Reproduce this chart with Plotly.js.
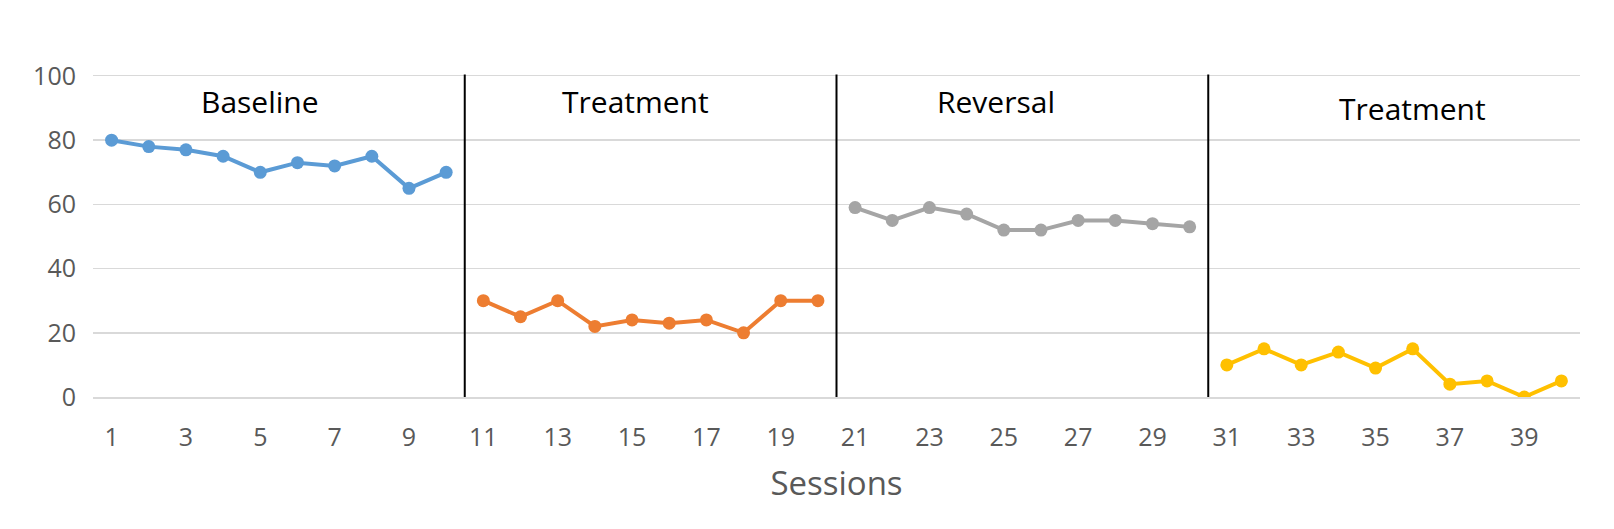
<!DOCTYPE html>
<html>
<head>
<meta charset="utf-8">
<script src="https://cdn.plot.ly/plotly-3.0.1.min.js"></script>
<style>
  html, body { margin: 0; padding: 0; background: #fff; }
  #chart { width: 1614px; height: 529px; }
</style>
</head>
<body>
<div id="chart"></div>
<script>
// Phase data, one value per session
const phase_names = ["Baseline", "Treatment", "Reversal", "Treatment"];
const phase_colors = ["#5B9BD5", "#ED7D31", "#A5A5A5", "#FFC000"];
const baseline = [80, 78, 77, 75, 70, 73, 72, 75, 65, 70];
const treatment1 = [30, 25, 30, 22, 24, 23, 24, 20, 30, 30];
const reversal = [59, 55, 59, 57, 52, 52, 55, 55, 54, 53];
const treatment2 = [10, 15, 10, 14, 9, 15, 4, 5, 0, 5];
const y_ticks = [0, 20, 40, 60, 80, 100];
const x_ticks = [1, 3, 5, 7, 9, 11, 13, 15, 17, 19, 21, 23, 25, 27, 29, 31, 33, 35, 37, 39];

// label spots, in data units
const label_x = [5, 15.1, 24.8, 36];
const label_y = [92, 92, 92, 90];

const phases = [baseline, treatment1, reversal, treatment2];

const data = [];
const shapes = [];
let start = 1;
phases.forEach((vals, i) => {
    const xs = vals.map((_, k) => start + k);
    data.push({
        type: "scatter",
        mode: "lines+markers",
        x: xs,
        y: vals,
        name: phase_names[i],
        line: { color: phase_colors[i], width: 4 },
        marker: { color: phase_colors[i], size: 13 },
        hoverinfo: "x+y",
    });
    start += vals.length;
    // phase change line after every phase but the last
    if (i < phases.length - 1) {
        shapes.push({
            type: "line",
            xref: "x",
            yref: "paper",
            x0: start - 0.5,
            x1: start - 0.5,
            y0: 0,
            y1: 1.005,
            line: { color: "#000", width: 2 },
        });
    }
});
const n_sessions = start - 1;

const annotations = phase_names.map((name, i) => ({
    x: label_x[i],
    y: label_y[i],
    xref: "x",
    yref: "y",
    text: name,
    showarrow: false,
    font: { family: "Open Sans, sans-serif", size: 30, color: "#000" },
}));

const layout = {
    width: 1614,
    height: 529,
    margin: { l: 93, r: 34, t: 76, b: 132 },
    paper_bgcolor: "#fff",
    plot_bgcolor: "#fff",
    showlegend: false,
    font: { family: "Open Sans, sans-serif", color: "#595959" },
    xaxis: {
        range: [0.5, n_sessions + 0.5],
        tickvals: x_ticks,
        ticktext: x_ticks.map(String),
        showgrid: false,
        zeroline: false,
        // bottom and top rules stand in for the 0 and 100 gridlines
        showline: true,
        mirror: true,
        linecolor: "#D9D9D9",
        linewidth: 1.5,
        ticks: "",
        ticklabelstandoff: 17,
        tickfont: { size: 25, color: "#595959" },
        title: {
            text: "Sessions",
            font: { size: 33, color: "#595959" },
            standoff: 20,
        },
    },
    yaxis: {
        range: [0, 100],
        tickvals: y_ticks,
        showgrid: true,
        gridcolor: "#D9D9D9",
        gridwidth: 1.5,
        zeroline: false,
        showline: false,
        ticks: "",
        ticklabelstandoff: 16,
        tickfont: { size: 25, color: "#595959" },
    },
    shapes: shapes,
    annotations: annotations,
};

const config = {
    displayModeBar: false,
    staticPlot: true,
};

Plotly.newPlot("chart", data, layout, config);
</script>
</body>
</html>
